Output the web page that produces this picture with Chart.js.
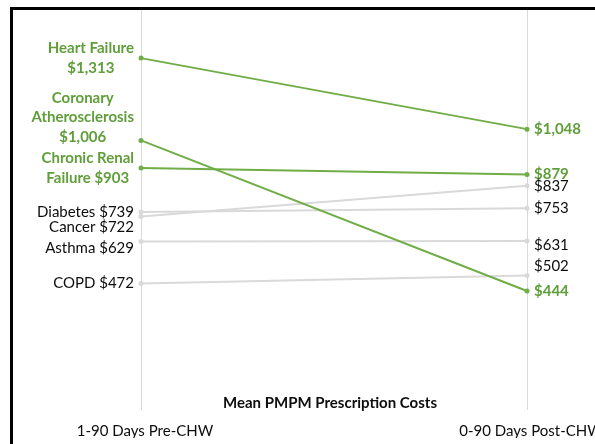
<!DOCTYPE html>
<html>
<head>
<meta charset="utf-8">
<script src="https://cdn.jsdelivr.net/npm/chart.js@4"></script>
<style>
  html, body { margin: 0; padding: 0; background: #fff; }
  #wrap { width: 595px; height: 444px; position: relative; }
</style>
</head>
<body>
<div id="wrap"><canvas id="slopeChart" width="595" height="444"></canvas></div>
<script>
const periods = ["1-90 Days Pre-CHW", "0-90 Days Post-CHW"];
const conditions = ["Heart Failure", "Coronary Atherosclerosis", "Chronic Renal Failure", "Diabetes", "Cancer", "Asthma", "COPD"];
const preCHW = [1313, 1006, 903, 739, 722, 629, 472];
const postCHW = [1048, 444, 879, 753, 837, 631, 502];
const highlighted = [true, true, true, false, false, false, false];

// label nudges (px) so the labels don't collide, like the original
const leftNudge = [0, -23, 0, 0, 11, 7, 0];
const rightNudge = [0, 0, 0, 0, 0, 4, -9];

const GREEN = "#70AD47";
const GREEN_TEXT = "#5F9E3A";
const GRAY = "#D9D9D9";
const FONT = "Lato, 'Open Sans', sans-serif";

function formatCurrency(v) {
  return "$" + v.toLocaleString("en-US");
}

function wrapWords(ctx, text, maxWidth) {
  const words = text.split(" ");
  const lines = [];
  let line = "";
  words.forEach((w) => {
    const test = line ? line + " " + w : w;
    if (ctx.measureText(test).width > maxWidth && line) {
      lines.push(line);
      line = w;
    } else {
      line = test;
    }
  });
  if (line) lines.push(line);
  return lines;
}

const labelPlugin = {
  id: "slopeLabels",
  afterDatasetsDraw(chart) {
    const ctx = chart.ctx;
    const x = chart.scales.x;
    const y = chart.scales.y;
    const xl = x.getPixelForValue(0);
    const xr = x.getPixelForValue(1);
    const lineH = 19.5;

    ctx.save();
    ctx.textBaseline = "middle";
    conditions.forEach((name, i) => {
      const bold = highlighted[i];
      ctx.font = (bold ? "bold " : "") + "15px " + FONT;
      ctx.fillStyle = bold ? GREEN_TEXT : "#0D0D0D";

      // left side: name + pre value, wrapped and centred in a block
      const lines = wrapWords(ctx, name + " " + formatCurrency(preCHW[i]), 112);
      const blockW = Math.max(...lines.map((l) => ctx.measureText(l).width));
      const cx = xl - 7 - blockW / 2;
      const cy = y.getPixelForValue(preCHW[i]) + leftNudge[i];
      ctx.textAlign = "center";
      lines.forEach((l, k) => {
        ctx.fillText(l, cx, cy + (k - (lines.length - 1) / 2) * lineH);
      });

      // right side: post value
      ctx.textAlign = "left";
      ctx.fillText(formatCurrency(postCHW[i]), xr + 7, y.getPixelForValue(postCHW[i]) + rightNudge[i]);
    });

    // chart title sits inside the plot, near the bottom
    ctx.font = "bold 15px " + FONT;
    ctx.fillStyle = "#0D0D0D";
    ctx.textAlign = "center";
    ctx.fillText("Mean PMPM Prescription Costs", (chart.chartArea.left + chart.chartArea.right) / 2 - 4, chart.chartArea.bottom - 7);

    // black frame (left and top edges are visible)
    ctx.fillStyle = "#000";
    ctx.fillRect(10, 7, 3, chart.height - 7);
    ctx.fillRect(10, 7, chart.width - 10, 3);
    ctx.restore();
  },
};

const datasets = conditions.map((name, i) => ({
  label: name,
  data: [preCHW[i], postCHW[i]],
  borderColor: highlighted[i] ? GREEN : GRAY,
  backgroundColor: highlighted[i] ? GREEN : GRAY,
  borderWidth: 2,
  pointRadius: 2.5,
  pointBorderWidth: 0,
  tension: 0,
}));

new Chart(document.getElementById("slopeChart"), {
  type: "line",
  data: { labels: periods, datasets },
  options: {
    responsive: false,
    animation: false,
    devicePixelRatio: 1,
    layout: { padding: { left: 141, right: 68, top: 8, bottom: 6 } },
    plugins: { legend: { display: false }, tooltip: { enabled: false }, title: { display: false } },
    scales: {
      x: {
        type: "category",
        offset: false,
        grid: { color: GRAY, lineWidth: 1, drawTicks: false },
        border: { display: false },
        ticks: { color: "#0D0D0D", font: { family: FONT, size: 15 }, padding: 12, labelOffset: 4, maxRotation: 0, autoSkip: false },
        afterFit(scale) {
          // let the long tick labels run past the edge, as in the original
          scale.paddingLeft = 0;
          scale.paddingRight = 0;
          scale.height = 28;
        },
      },
      y: {
        display: false,
        min: 0,
        max: 1500,
      },
    },
  },
  plugins: [labelPlugin],
});
</script>
</body>
</html>
